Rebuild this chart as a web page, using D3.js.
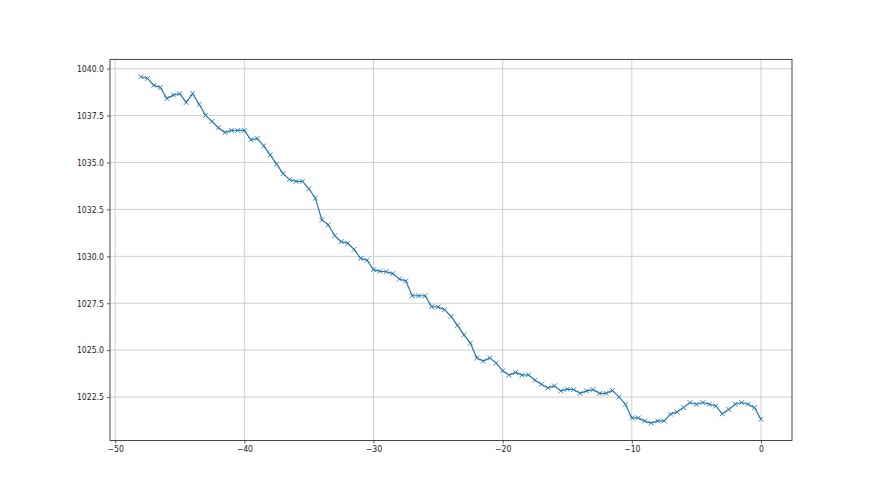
<!DOCTYPE html>
<html>
<head>
<meta charset="utf-8">
<script src="https://cdn.jsdelivr.net/npm/d3@7"></script>
<style>
  body { margin: 0; background: #fff; }
  .axis text { font-family: "DejaVu Sans", sans-serif; font-size: 8.6px; font-stretch: condensed; fill: #222; }
  .axis path, .axis line { stroke: #333; stroke-width: 0.8; }
</style>
</head>
<body>
<div id="chart"></div>
<script>
var w = 880, h = 495;

// x values: -48 .. 0 in steps of 0.5
var xs = d3.range(97).map(function(i) { return -48 + i * 0.5; });

var values = [
  1039.57, 1039.48, 1039.11, 1039.00, 1038.41, 1038.59, 1038.67, 1038.20, 1038.67, 1038.10,
  1037.51, 1037.19, 1036.85, 1036.60, 1036.71, 1036.71, 1036.71,
  1036.21, 1036.28, 1035.89, 1035.41, 1034.91, 1034.41, 1034.09, 1033.99, 1034.00, 1033.60,
  1033.10, 1031.94, 1031.68, 1031.10, 1030.78, 1030.70,
  1030.37, 1029.89, 1029.79, 1029.29, 1029.20, 1029.18, 1029.08, 1028.79, 1028.69, 1027.90,
  1027.90, 1027.90, 1027.32, 1027.30, 1027.16, 1026.80, 1026.32,
  1025.82, 1025.38, 1024.58, 1024.42, 1024.59, 1024.31, 1023.90, 1023.67, 1023.81, 1023.67,
  1023.69, 1023.40, 1023.19, 1022.99, 1023.10, 1022.83,
  1022.92, 1022.90, 1022.70, 1022.83, 1022.90, 1022.70, 1022.70, 1022.85, 1022.51, 1022.12,
  1021.39, 1021.39, 1021.22, 1021.11, 1021.23, 1021.23,
  1021.59, 1021.71, 1021.94, 1022.21, 1022.12, 1022.21, 1022.12, 1022.03, 1021.61, 1021.84,
  1022.12, 1022.21, 1022.12, 1021.94, 1021.32
];

var xTicks = [-50, -40, -30, -20, -10, 0];
var yTicks = [1022.5, 1025.0, 1027.5, 1030.0, 1032.5, 1035.0, 1037.5, 1040.0];

var data = xs.map(function(x, i) { return [x, values[i]]; });

// plot box (matplotlib default subplot params)
var padL = 110, padR = 792, padT = 59.4, padB = 440.5;

// matplotlib style 5% margins
var xMin = d3.min(xs), xMax = d3.max(xs);
var yMin = d3.min(values), yMax = d3.max(values);
var xPad = (xMax - xMin) * 0.05, yPad = (yMax - yMin) * 0.05;

var xScale = d3.scaleLinear()
  .domain([xMin - xPad, xMax + xPad])
  .range([padL, padR]);

var yScale = d3.scaleLinear()
  .domain([yMin - yPad, yMax + yPad])
  .range([padB, padT]);

var chart = d3.select("#chart")
  .append("svg")
  .attr("width", w)
  .attr("height", h);

// grid
chart.append("g")
  .selectAll("line")
  .data(xTicks)
  .enter().append("line")
  .attr("x1", function(d) { return xScale(d); })
  .attr("x2", function(d) { return xScale(d); })
  .attr("y1", padT).attr("y2", padB)
  .attr("stroke", "#c4c4c4").attr("stroke-width", 0.8);

chart.append("g")
  .selectAll("line")
  .data(yTicks)
  .enter().append("line")
  .attr("y1", function(d) { return yScale(d); })
  .attr("y2", function(d) { return yScale(d); })
  .attr("x1", padL).attr("x2", padR)
  .attr("stroke", "#c4c4c4").attr("stroke-width", 0.8);

// axes
var xAxis = d3.axisBottom(xScale)
  .tickValues(xTicks)
  .tickSize(3)
  .tickPadding(2.5)
  .tickFormat(function(d) { return d3.format("d")(d).replace("-", "\u2212"); });

var yAxis = d3.axisLeft(yScale)
  .tickValues(yTicks)
  .tickSize(3)
  .tickPadding(3)
  .tickFormat(d3.format(".1f"));

chart.append("g")
  .attr("class", "axis")
  .attr("transform", "translate(0," + padB + ")")
  .call(xAxis)
  .call(function(g) { g.select(".domain").remove(); });

chart.append("g")
  .attr("class", "axis")
  .attr("transform", "translate(" + padL + ",0)")
  .call(yAxis)
  .call(function(g) { g.select(".domain").remove(); });

// frame
chart.append("rect")
  .attr("x", padL).attr("y", padT)
  .attr("width", padR - padL).attr("height", padB - padT)
  .attr("fill", "none")
  .attr("stroke", "#333")
  .attr("stroke-width", 0.9);

// line
chart.append("path")
  .datum(data)
  .attr("fill", "none")
  .attr("stroke", "#1f77b4")
  .attr("stroke-width", 1.2)
  .attr("d", d3.line()
    .x(function(d) { return xScale(d[0]); })
    .y(function(d) { return yScale(d[1]); })
  );

// x markers
var m = 2.4;
chart.append("g")
  .selectAll("path")
  .data(data)
  .enter().append("path")
  .attr("fill", "none")
  .attr("stroke", "#1f77b4")
  .attr("stroke-width", 0.9)
  .attr("d", function(d) {
    var x = xScale(d[0]), y = yScale(d[1]);
    return "M" + (x - m) + "," + (y - m) + "L" + (x + m) + "," + (y + m) +
           "M" + (x - m) + "," + (y + m) + "L" + (x + m) + "," + (y - m);
  });
</script>
</body>
</html>
